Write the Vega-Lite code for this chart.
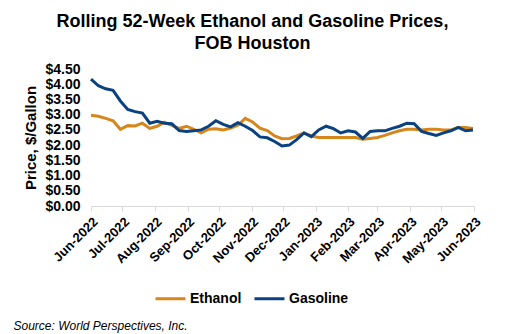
{
  "$schema": "https://vega.github.io/schema/vega-lite/v6.json",
  "autosize": "none",
  "width": 383,
  "height": 137,
  "padding": {"left": 91, "top": 69, "right": 31, "bottom": 128},
  "background": "white",
  "title": {
    "text": ["Rolling 52-Week Ethanol and Gasoline Prices,", "FOB Houston"],
    "font": "Liberation Sans",
    "fontSize": 18,
    "fontWeight": "bold",
    "color": "#000000",
    "anchor": "middle",
    "dx": -30,
    "offset": 9,
    "lineHeight": 22
  },
  "config": {
    "view": {"stroke": null},
    "font": "Liberation Sans"
  },
  "data": {
    "values": [
      {"date": "2022-06-01", "Ethanol": 2.98, "Gasoline": 4.17},
      {"date": "2022-06-08", "Ethanol": 2.95, "Gasoline": 3.95},
      {"date": "2022-06-15", "Ethanol": 2.88, "Gasoline": 3.85},
      {"date": "2022-06-22", "Ethanol": 2.80, "Gasoline": 3.80},
      {"date": "2022-06-29", "Ethanol": 2.52, "Gasoline": 3.45},
      {"date": "2022-07-06", "Ethanol": 2.64, "Gasoline": 3.17},
      {"date": "2022-07-13", "Ethanol": 2.63, "Gasoline": 3.10},
      {"date": "2022-07-20", "Ethanol": 2.72, "Gasoline": 3.05},
      {"date": "2022-07-27", "Ethanol": 2.55, "Gasoline": 2.72},
      {"date": "2022-08-03", "Ethanol": 2.62, "Gasoline": 2.78},
      {"date": "2022-08-10", "Ethanol": 2.75, "Gasoline": 2.72},
      {"date": "2022-08-17", "Ethanol": 2.65, "Gasoline": 2.70},
      {"date": "2022-08-24", "Ethanol": 2.55, "Gasoline": 2.48},
      {"date": "2022-08-31", "Ethanol": 2.62, "Gasoline": 2.45},
      {"date": "2022-09-07", "Ethanol": 2.52, "Gasoline": 2.47},
      {"date": "2022-09-14", "Ethanol": 2.40, "Gasoline": 2.50},
      {"date": "2022-09-21", "Ethanol": 2.52, "Gasoline": 2.62},
      {"date": "2022-09-28", "Ethanol": 2.54, "Gasoline": 2.80},
      {"date": "2022-10-05", "Ethanol": 2.50, "Gasoline": 2.68},
      {"date": "2022-10-12", "Ethanol": 2.56, "Gasoline": 2.60},
      {"date": "2022-10-19", "Ethanol": 2.65, "Gasoline": 2.74},
      {"date": "2022-10-26", "Ethanol": 2.88, "Gasoline": 2.62},
      {"date": "2022-11-02", "Ethanol": 2.76, "Gasoline": 2.48},
      {"date": "2022-11-09", "Ethanol": 2.56, "Gasoline": 2.27},
      {"date": "2022-11-16", "Ethanol": 2.48, "Gasoline": 2.24},
      {"date": "2022-11-23", "Ethanol": 2.30, "Gasoline": 2.12},
      {"date": "2022-11-30", "Ethanol": 2.21, "Gasoline": 1.97},
      {"date": "2022-12-07", "Ethanol": 2.22, "Gasoline": 2.00},
      {"date": "2022-12-14", "Ethanol": 2.30, "Gasoline": 2.18},
      {"date": "2022-12-21", "Ethanol": 2.40, "Gasoline": 2.40},
      {"date": "2022-12-28", "Ethanol": 2.30, "Gasoline": 2.28},
      {"date": "2023-01-04", "Ethanol": 2.25, "Gasoline": 2.50},
      {"date": "2023-01-11", "Ethanol": 2.25, "Gasoline": 2.62},
      {"date": "2023-01-18", "Ethanol": 2.25, "Gasoline": 2.54},
      {"date": "2023-01-25", "Ethanol": 2.25, "Gasoline": 2.40},
      {"date": "2023-02-01", "Ethanol": 2.25, "Gasoline": 2.47},
      {"date": "2023-02-08", "Ethanol": 2.25, "Gasoline": 2.43},
      {"date": "2023-02-15", "Ethanol": 2.19, "Gasoline": 2.22},
      {"date": "2023-02-22", "Ethanol": 2.22, "Gasoline": 2.45},
      {"date": "2023-03-01", "Ethanol": 2.25, "Gasoline": 2.47},
      {"date": "2023-03-08", "Ethanol": 2.32, "Gasoline": 2.47},
      {"date": "2023-03-15", "Ethanol": 2.40, "Gasoline": 2.55},
      {"date": "2023-03-22", "Ethanol": 2.47, "Gasoline": 2.62},
      {"date": "2023-03-29", "Ethanol": 2.52, "Gasoline": 2.72},
      {"date": "2023-04-05", "Ethanol": 2.52, "Gasoline": 2.70},
      {"date": "2023-04-12", "Ethanol": 2.50, "Gasoline": 2.45},
      {"date": "2023-04-19", "Ethanol": 2.52, "Gasoline": 2.38},
      {"date": "2023-04-26", "Ethanol": 2.52, "Gasoline": 2.32},
      {"date": "2023-05-03", "Ethanol": 2.50, "Gasoline": 2.40},
      {"date": "2023-05-10", "Ethanol": 2.50, "Gasoline": 2.47},
      {"date": "2023-05-17", "Ethanol": 2.58, "Gasoline": 2.58},
      {"date": "2023-05-24", "Ethanol": 2.58, "Gasoline": 2.47},
      {"date": "2023-05-31", "Ethanol": 2.55, "Gasoline": 2.50}
    ]
  },
  "transform": [
    {"fold": ["Ethanol", "Gasoline"], "as": ["series", "price"]}
  ],
  "mark": {"type": "line", "strokeWidth": 3, "interpolate": "linear"},
  "encoding": {
    "x": {
      "field": "date",
      "type": "temporal",
      "scale": {
        "type": "utc",
        "domain": [
          {"year": 2022, "month": 6, "date": 1, "utc": true},
          {"year": 2023, "month": 6, "date": 1, "utc": true}
        ],
        "nice": false
      },
      "axis": {
        "title": "Source: World Perspectives, Inc.",
        "titleFont": "Liberation Sans",
        "titleFontSize": 12,
        "titleFontStyle": "italic",
        "titleFontWeight": "normal",
        "titleColor": "#000000",
        "titleAnchor": "start",
        "titleAlign": "left",
        "titleBaseline": "alphabetic",
        "titleX": -78,
        "titleY": 123,
        "format": "%b-%Y",
        "tickCount": {"interval": "month", "step": 1},
        "labelAngle": -45,
        "labelAlign": "right",
        "labelBaseline": "top",
        "labelFontSize": 13,
        "labelFontWeight": "bold",
        "labelColor": "#000000",
        "labelPadding": 4,
        "labelOverlap": false,
        "labelFlush": false,
        "grid": false,
        "domainColor": "#D9D9D9",
        "domainWidth": 1,
        "tickColor": "#D9D9D9",
        "tickSize": 5
      }
    },
    "y": {
      "field": "price",
      "type": "quantitative",
      "scale": {"domain": [0, 4.5], "nice": false},
      "axis": {
        "title": "Price, $/Gallon",
        "titleFont": "Liberation Sans",
        "titleFontSize": 15,
        "titleFontWeight": "bold",
        "titleColor": "#000000",
        "titlePadding": 6,
        "values": [0, 0.5, 1, 1.5, 2, 2.5, 3, 3.5, 4, 4.5],
        "format": "$.2f",
        "labelFontSize": 14,
        "labelFontWeight": "bold",
        "labelColor": "#000000",
        "labelPadding": 11,
        "domain": false,
        "ticks": false,
        "grid": false
      }
    },
    "color": {
      "field": "series",
      "type": "nominal",
      "scale": {"domain": ["Ethanol", "Gasoline"], "range": ["#D6861A", "#0A4281"]},
      "legend": {
        "title": null,
        "orient": "none",
        "direction": "horizontal",
        "legendX": 63,
        "legendY": 213,
        "symbolType": "stroke",
        "symbolSize": 900,
        "symbolStrokeWidth": 3,
        "labelFont": "Liberation Sans",
        "labelFontSize": 14,
        "labelFontWeight": "bold",
        "labelColor": "#000000",
        "labelOffset": 3,
        "columnPadding": 6
      }
    }
  }
}
